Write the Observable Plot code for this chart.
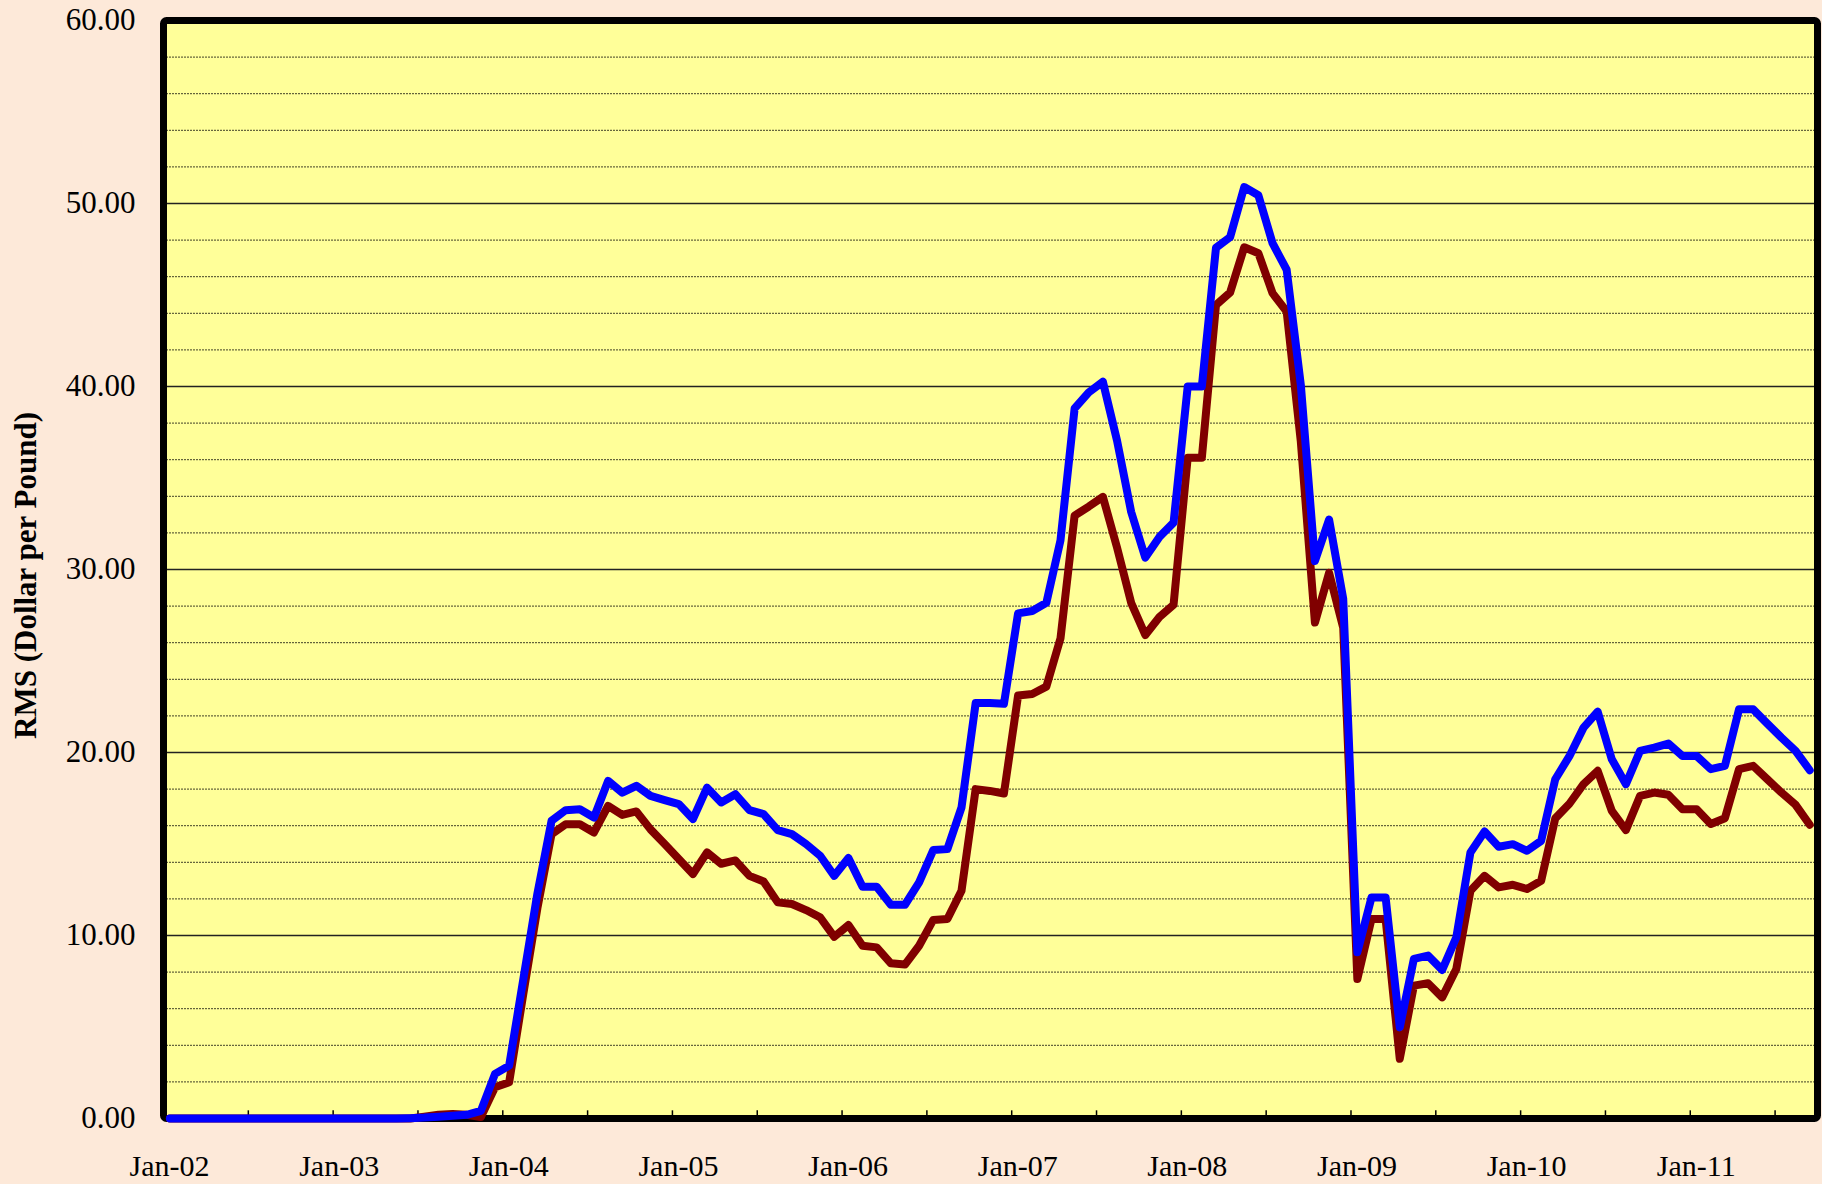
<!DOCTYPE html>
<html><head><meta charset="utf-8">
<script src="https://cdn.jsdelivr.net/npm/d3@7"></script>
<script src="https://cdn.jsdelivr.net/npm/@observablehq/plot@0.6"></script>
<style>
html,body{margin:0;padding:0;background:#FDE9D9;}
#chart{width:1822px;height:1184px;overflow:hidden;}
</style>
</head><body><div id="chart"></div>
<script>
// Monthly categories Jan-2002 .. Sep-2011
const months = d3.utcMonth.range(new Date(Date.UTC(2002,0,1)), new Date(Date.UTC(2011,9,1)));

// Blue series (RMS, dollar per pound)
const blueValues = [
  0,0,0,0,0,0,0,0,0,0,0,0,0,0,0,0,0,
  0.02,0.05,0.1,0.15,0.2,0.42,2.44,2.89,7.6,12.3,16.27,16.85,16.9,16.45,
  18.45,17.81,18.18,17.63,17.4,17.18,16.36,18.08,17.27,17.72,16.85,16.63,
  15.76,15.54,15.0,14.36,13.26,14.23,12.66,12.66,11.68,11.68,12.9,14.67,
  14.72,17.0,22.7,22.7,22.66,27.6,27.73,28.18,31.59,38.8,39.68,40.26,37.05,
  33.15,30.65,31.78,32.56,40.0,40.0,47.58,48.16,50.9,50.45,47.83,46.38,40.1,
  30.46,32.73,28.4,9.08,12.08,12.08,4.98,8.72,8.9,8.12,9.9,14.54,15.68,14.85,
  14.99,14.63,15.17,18.54,19.8,21.36,22.23,19.63,18.27,20.09,20.27,20.49,
  19.81,19.81,19.09,19.27,22.36,22.36,21.58,20.81,20.09,19.03
];
// Dark red series
const redValues = [
  0,0,0,0,0,0,0,0,0,0,0,0,0,0,0,0,0,0,
  0.1,0.2,0.25,0.2,0.08,1.71,1.98,6.8,11.5,15.54,16.08,16.08,15.63,
  17.08,16.59,16.78,15.8,15.0,14.18,13.36,14.54,13.92,14.1,13.26,12.95,
  11.81,11.72,11.39,10.99,9.93,10.57,9.44,9.35,8.48,8.41,9.44,10.85,
  10.9,12.45,18.0,17.9,17.76,23.11,23.2,23.6,26.23,32.95,33.44,33.97,31.2,
  28.18,26.42,27.4,28.08,36.11,36.11,44.45,45.14,47.61,47.28,45.1,44.1,37.0,
  27.1,29.82,26.82,7.62,10.9,10.9,3.26,7.26,7.39,6.62,8.17,12.45,13.26,12.63,
  12.77,12.54,12.99,16.4,17.2,18.27,19.0,16.81,15.76,17.63,17.81,17.69,
  16.9,16.9,16.09,16.41,19.09,19.27,18.54,17.81,17.14,16.05
];

const yearLabels = ["Jan-02","Jan-03","Jan-04","Jan-05","Jan-06","Jan-07","Jan-08","Jan-09","Jan-10","Jan-11"];
const yMajor = [0,10,20,30,40,50,60];
const yMinor = [2,4,6,8,12,14,16,18,22,24,26,28,32,34,36,38,42,44,46,48,52,54,56,58];
const yTitle = "RMS (Dollar per Pound)";

const serif = "'Liberation Serif', 'Times New Roman', serif";
const n = months.length;
const rows = months.map((d,i)=>({i, date:d, blue:blueValues[i], red:redValues[i]}));
const halfYearTicks = d3.range(0, n, 6);
const yearTicks = yearLabels.map((_,k)=>k*12);

const chart = Plot.plot({
  width: 1822,
  height: 1184,
  marginLeft: 163,
  marginRight: 5,
  marginTop: 20,
  marginBottom: 66,
  style: {background: "transparent", fontFamily: serif, color: "#000"},
  x: {domain: [0, n], axis: null},
  y: {domain: [0, 60], axis: null},
  marks: [
    Plot.frame({fill: "#FFFF99"}),
    Plot.ruleY(yMinor, {stroke: "#000", strokeOpacity: 0.75, strokeWidth: 1, strokeDasharray: "2,1"}),
    Plot.ruleY(yMajor.slice(1,-1), {stroke: "#222", strokeWidth: 1.4}),
    Plot.ruleX(halfYearTicks, {x: d=>d, y1: 0, y2: 0.42, stroke: "#000", strokeWidth: 1.5}),
    Plot.frame({stroke: "#000", strokeWidth: 7, rx: 3}),
    Plot.line(rows, {x: d=>d.i+0.45, y: "red", stroke: "#800000", strokeWidth: 8, strokeLinejoin: "round", strokeLinecap: "round"}),
    Plot.line(rows, {x: d=>d.i+0.45, y: "blue", stroke: "#0000FF", strokeWidth: 8, strokeLinejoin: "round", strokeLinecap: "round"}),
    Plot.axisY({ticks: yMajor, tickFormat: d=>d.toFixed(2), tickSize: 0, tickPadding: 28, fontSize: 31, fontFamily: serif, label: null}),
    Plot.axisX({ticks: yearTicks, tickFormat: d=>yearLabels[d/12], tickSize: 0, tickPadding: 36, dx: 6, fontSize: 30, fontFamily: serif, label: null}),
    Plot.text([yTitle], {text: d=>d, frameAnchor: "left", textAnchor: "middle", dx: -137, dy: 6, rotate: -90, fontSize: 31, fontWeight: "bold", fontFamily: serif, fill: "#000"})
  ]
});
document.getElementById("chart").appendChild(chart);
</script>
</body></html>
